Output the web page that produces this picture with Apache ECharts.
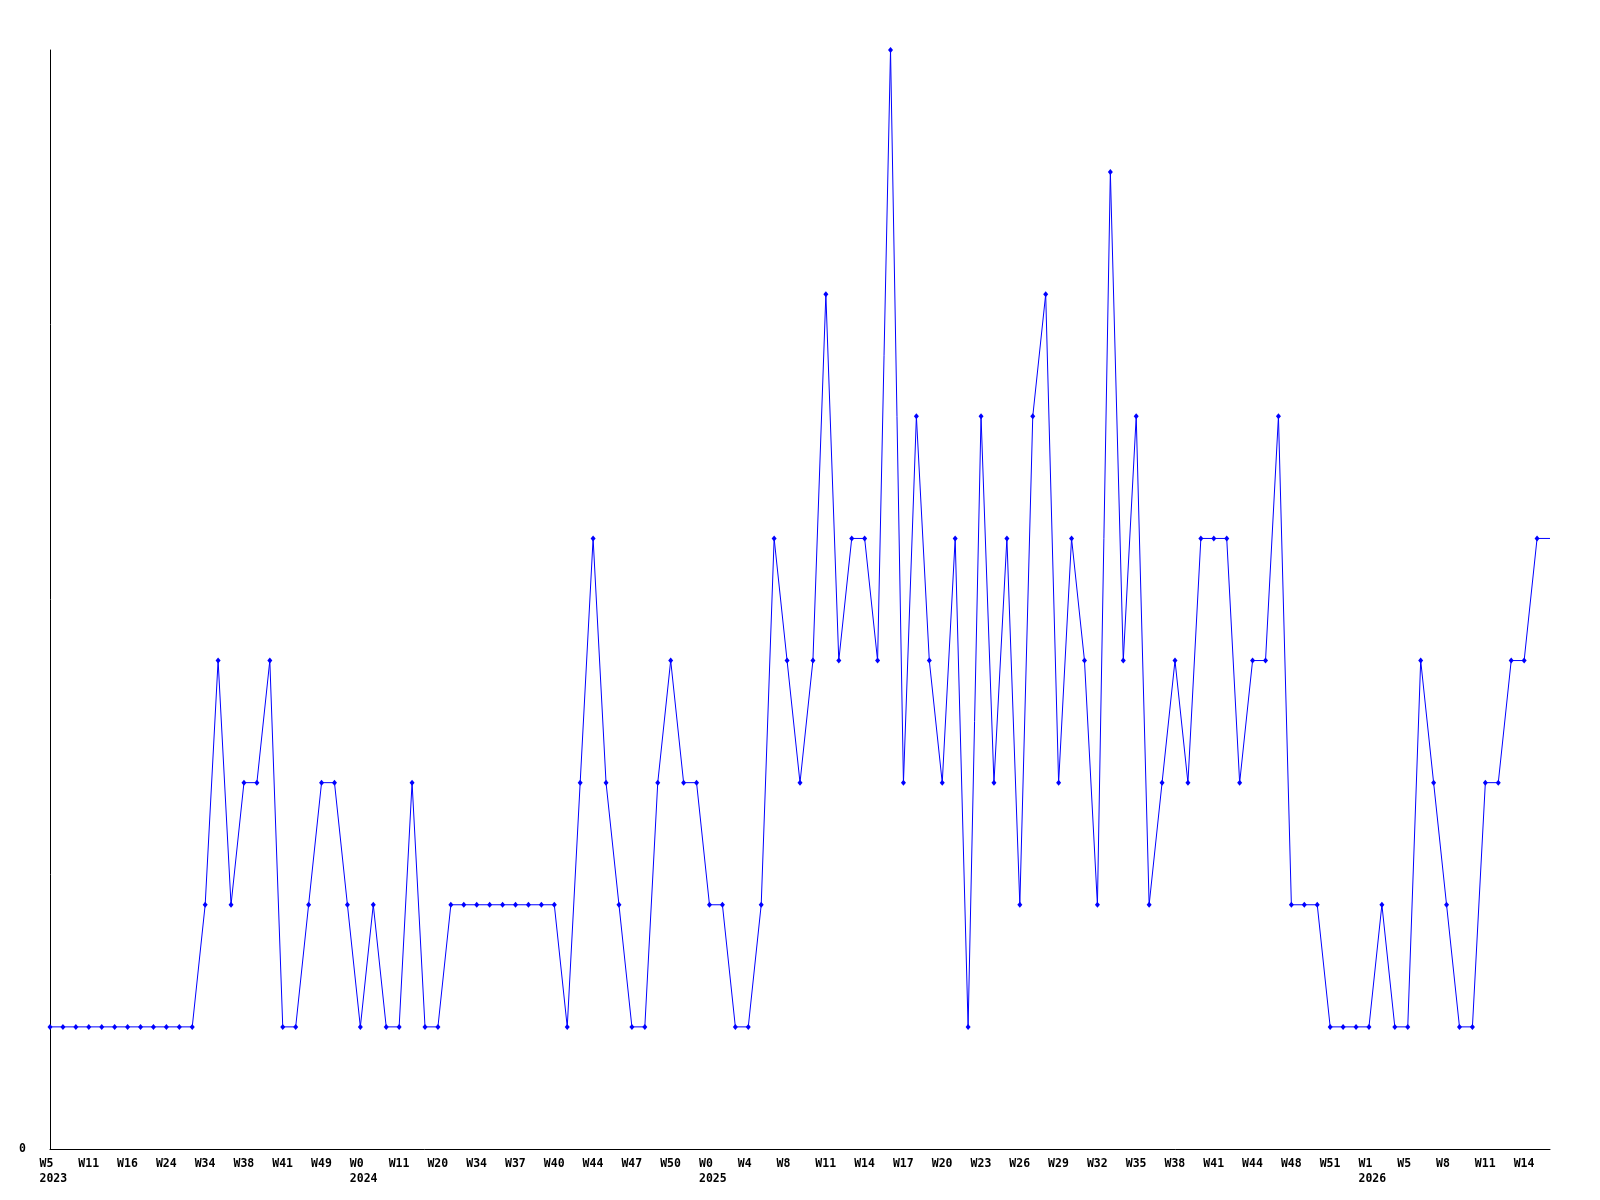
<!DOCTYPE html>
<html>
<head>
<meta charset="utf-8">
<script src="https://cdn.jsdelivr.net/npm/echarts@6/dist/echarts.min.js"></script>
<style>
html,body{margin:0;padding:0;background:#ffffff;}
#chart{width:1600px;height:1200px;}
</style>
</head>
<body>
<div id="chart"></div>
<script>
// Tick labels shown every 3rd point (year appears under the first week of each year)
const tickLabels = [
  'W5\n2023','W11','W16','W24','W34','W38','W41','W49',
  'W0\n2024','W11','W20','W34','W37','W40','W44','W47','W50',
  'W0\n2025','W4','W8','W11','W14','W17','W20','W23','W26','W29','W32','W35','W38','W41','W44','W48','W51',
  'W1\n2026','W5','W8','W11','W14'
];
const tickEvery = 3;

// Weekly values (last point is the line's end, drawn without a marker)
const values = [
  1,1,1,1,1,1,1,1,1,1,1,1,
  2,4,2,3,3,4,1,1,2,3,3,2,1,2,1,1,3,1,1,
  2,2,2,2,2,2,2,2,2,
  1,3,5,3,2,1,1,3,4,3,3,2,2,1,1,2,5,
  4,3,4,7,4,5,5,4,9,3,6,4,3,5,1,6,3,5,2,6,7,3,5,4,2,8,4,6,2,3,4,3,5,
  5,5,3,4,4,6,2,2,2,1,1,1,1,2,1,1,4,3,2,1,1,3,3,4,4,5,
  5
];

const categories = values.map((v, i) => (i % tickEvery === 0 && tickLabels[i / tickEvery]) ? tickLabels[i / tickEvery] : '');

const chart = echarts.init(document.getElementById('chart'), null, {renderer: 'canvas'});
chart.setOption({
  animation: false,
  backgroundColor: '#ffffff',
  grid: {left: 50, right: 50, top: 50, bottom: 51, containLabel: false},
  xAxis: {
    type: 'category',
    data: categories,
    boundaryGap: false,
    axisLine: {show: true, lineStyle: {color: '#000000', width: 1}},
    axisTick: {show: false},
    splitLine: {show: false},
    axisLabel: {
      interval: tickEvery - 1,
      align: 'left',
      padding: [0, 0, 0, -10.5],
      margin: 7,
      color: '#000000',
      fontFamily: 'DejaVu Sans Mono',
      fontWeight: 'bold',
      fontSize: 11.5,
      lineHeight: 15.5,
      hideOverlap: false
    }
  },
  yAxis: {
    type: 'value',
    min: 0,
    max: 9,
    interval: 9,
    axisLine: {show: true, lineStyle: {color: '#000000', width: 1}},
    axisTick: {show: false},
    splitLine: {show: false},
    axisLabel: {
      margin: 24,
      padding: [4, 0, 0, 0],
      color: '#000000',
      fontFamily: 'DejaVu Sans Mono',
      fontWeight: 'bold',
      fontSize: 11.5,
      formatter: v => (v === 0 ? '0' : '')
    }
  },
  series: [{
    type: 'line',
    data: values.map((v, i) => i === values.length - 1 ? {value: v, symbol: 'none'} : v),
    symbol: 'diamond',
    symbolSize: [5, 6],
    showAllSymbol: true,
    itemStyle: {color: '#0000ff'},
    lineStyle: {color: '#0000ff', width: 1},
    emphasis: {disabled: true}
  }]
});
</script>
</body>
</html>
